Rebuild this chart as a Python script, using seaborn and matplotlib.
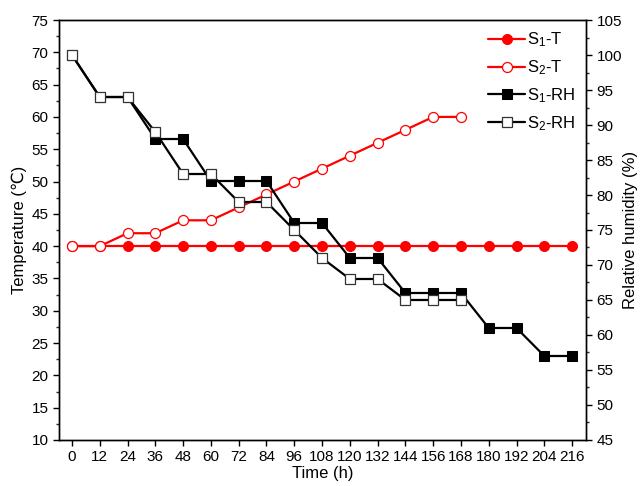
import matplotlib
matplotlib.use("Agg")
import matplotlib.pyplot as plt
import seaborn as sns
import numpy as np
from matplotlib.ticker import MultipleLocator

sns.set_style("ticks")
plt.rcParams['font.family'] = ['Liberation Sans', 'DejaVu Sans', 'Noto Sans CJK SC']
plt.rcParams['mathtext.fontset'] = 'custom'
plt.rcParams['mathtext.rm'] = 'Liberation Sans'
plt.rcParams['mathtext.it'] = 'Liberation Sans'
plt.rcParams['mathtext.default'] = 'regular'
plt.rcParams['text.color'] = 'black'
plt.rcParams['axes.labelcolor'] = 'black'

# ---- data ----
time_all = [0, 12, 24, 36, 48, 60, 72, 84, 96, 108, 120, 132, 144, 156, 168, 180, 192, 204, 216]
time_s2 = [0, 12, 24, 36, 48, 60, 72, 84, 96, 108, 120, 132, 144, 156, 168]
s1_T = [40, 40, 40, 40, 40, 40, 40, 40, 40, 40, 40, 40, 40, 40, 40, 40, 40, 40, 40]
s2_T = [40, 40, 42, 42, 44, 44, 46, 48, 50, 52, 54, 56, 58, 60, 60]
s1_RH = [100, 94, 94, 88, 88, 82, 82, 82, 76, 76, 71, 71, 66, 66, 66, 61, 61, 57, 57]
s2_RH = [100, 94, 94, 89, 83, 83, 79, 79, 75, 71, 68, 68, 65, 65, 65]
x_ticks = list(range(0, 217, 12))
labels = [r'S$_1$-T', r'S$_2$-T', r'S$_1$-RH', r'S$_2$-RH']

fig = plt.figure(figsize=(6.4, 4.86), dpi=100)
ax = fig.add_axes([0.0922, 0.0947, 0.8234, 0.8641])
ax2 = ax.twinx()

lw = 1.6
sns.lineplot(x=time_all, y=s1_T, ax=ax, color='red', marker='o', markersize=7.2,
             markerfacecolor='red', markeredgecolor='red', linewidth=lw, label=labels[0], legend=False)
sns.lineplot(x=time_s2, y=s2_T, ax=ax, color='red', marker='o', markersize=7.2,
             markerfacecolor='white', markeredgecolor='red', markeredgewidth=0.9,
             linewidth=lw, label=labels[1], legend=False)
sns.lineplot(x=time_all, y=s1_RH, ax=ax2, color='black', marker='s', markersize=6.8,
             markerfacecolor='black', markeredgecolor='black', linewidth=lw, label=labels[2], legend=False)
sns.lineplot(x=time_s2, y=s2_RH, ax=ax2, color='black', marker='s', markersize=6.8,
             markerfacecolor='white', markeredgecolor='#333333', markeredgewidth=0.9,
             linewidth=lw, label=labels[3], legend=False)

ax.set_xlim(-5.6, 222)
ax.set_ylim(10, 75)
ax2.set_ylim(45, 105)
ax.set_xticks(x_ticks)
ax.set_yticks(np.arange(10, 76, 5))
ax2.set_yticks(np.arange(45, 106, 5))
ax.yaxis.set_minor_locator(MultipleLocator(2.5))
ax2.yaxis.set_minor_locator(MultipleLocator(2.5))

for a in (ax, ax2):
    for s in a.spines.values():
        s.set_linewidth(1.0)
        s.set_color('black')
    a.tick_params(axis='both', which='major', direction='out', length=4, width=1.0,
                  labelsize=11, colors='black', labelcolor='black')
    a.tick_params(axis='y', which='minor', direction='out', length=2.5, width=1.0)
ax.tick_params(axis='x', which='minor', bottom=False)
ax.tick_params(axis='y', which='both', right=False)
ax2.tick_params(axis='y', which='both', left=False)

ax.set_xlabel('Time (h)', fontsize=12, labelpad=1)
ax.set_ylabel('Temperature (℃)', fontsize=12, labelpad=3)
ax2.set_ylabel('Relative humidity (%)', fontsize=12, labelpad=1)

h1, l1 = ax.get_legend_handles_labels()
h2, l2 = ax2.get_legend_handles_labels()
leg = ax2.legend(h1 + h2, l1 + l2, loc='upper left', bbox_to_anchor=(0.815, 0.975),
                 frameon=False, fontsize=12, handlelength=2.2, handletextpad=0.1,
                 borderaxespad=0, borderpad=0, labelspacing=0.55)
for t in leg.get_texts():
    t.set_color('black')

fig.savefig('out.png', dpi=100)
